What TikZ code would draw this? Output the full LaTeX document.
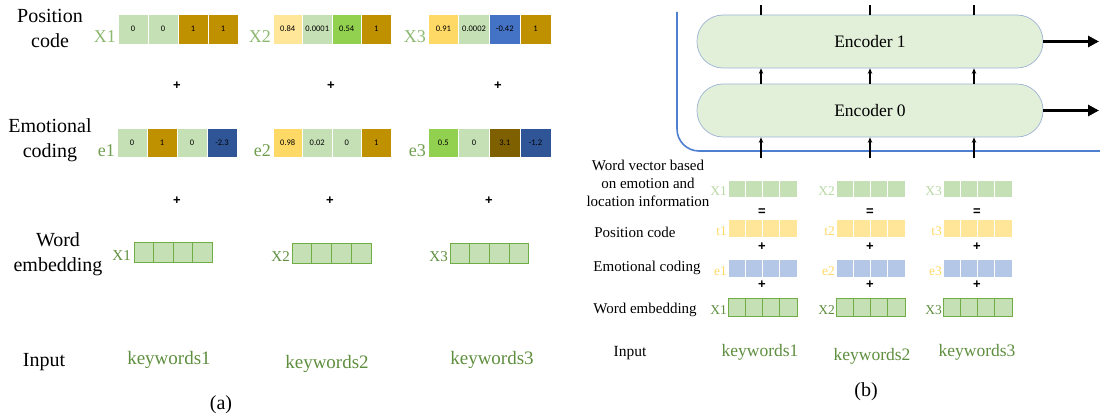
\documentclass[tikz,border=0pt]{standalone}
\usepackage{fontspec}
\setmainfont{Liberation Serif}
\newfontfamily\cellfont{Carlito}
\newfontfamily\plusfont{Liberation Sans}
\usetikzlibrary{arrows.meta}
\definecolor{lg}{HTML}{C5E0B4}
\definecolor{gold}{HTML}{BF9000}
\definecolor{ly}{HTML}{FFE699}
\definecolor{yy}{HTML}{FFD966}
\definecolor{gg}{HTML}{92D050}
\definecolor{bb}{HTML}{4472C4}
\definecolor{db}{HTML}{2F5597}
\definecolor{br}{HTML}{7F6000}
\definecolor{lb}{HTML}{B4C7E7}
\definecolor{gborder}{HTML}{70AD47}
\definecolor{labX}{HTML}{8DB870}
\definecolor{labE}{HTML}{6F9E4C}
\definecolor{labW}{HTML}{5E8E3E}
\definecolor{kw}{HTML}{5E8E3E}
\definecolor{encfill}{HTML}{E2F0D9}
\definecolor{encdraw}{HTML}{9DB3D6}
\definecolor{blueline}{HTML}{4F7FD0}
\newcommand{\fs}[2]{\fontsize{#1}{#2}\selectfont}
\newcommand{\vecrow}[7]{%
  \foreach \c/\t [count=\i] in {#7}{%
    \node[#6, fill=\c, minimum width=#4pt, minimum height=#5pt, anchor=north west]
      (#1-\i) at ({#2+(\i-1)*#4},#3) {\t};}}
\tikzset{
  cellA/.style={draw=white, line width=0.6pt, inner sep=0pt, outer sep=0pt, font=\cellfont\fs{8.5}{9}},
  cellG/.style={draw=gborder, line width=0.6pt, inner sep=0pt, outer sep=0pt},
  cellW/.style={draw=white, line width=0.6pt, inner sep=0pt, outer sep=0pt},
  bigtext/.style={align=center, font=\fs{20}{25}},
  midtext/.style={align=center, font=\fs{15}{18}},
  plus/.style={font=\plusfont\bfseries\fs{13}{13}},
  kwA/.style={text=kw, font=\fs{19}{22}},
  kwB/.style={text=kw, font=\fs{17.5}{20}},
  enc/.style={draw=encdraw, fill=encfill, line width=0.7pt, rounded corners=26pt,
    minimum width=346pt, minimum height=53pt, font=\fs{17.5}{20}},
  uparr/.style={-{Stealth[length=5.5pt,width=4.5pt]}, line width=1.3pt},
  outarr/.style={-{Triangle[length=11pt,width=11pt]}, line width=3pt},
}
\begin{document}
\begin{tikzpicture}[x=1pt,y=-1pt]
\useasboundingbox (0,0) rectangle (1100,414);
% ---------------- panel (a) ----------------
\node[bigtext] (pcA) at (50,28) {Position\\code};
\node[bigtext] (ecA) at (50,140) {Emotional\\coding};
\node[bigtext] (weA) at (58,254) {Word\\embedding};
\node[font=\fs{20}{22}] (inA) at (44,362) {Input};
\vecrow{px1}{118}{14}{30}{30}{cellA}{lg/0,lg/0,gold/1,gold/1}
\vecrow{px2}{273}{14}{29.5}{30}{cellA}{ly/0.84,lg/0.0001,gg/0.54,gold/1}
\vecrow{px3}{428}{14}{30.7}{30}{cellA}{yy/0.91,lg/0.0002,bb/-0.42,gold/1}
\node[anchor=base east, text=labX, font=\fs{18}{20}, inner sep=1pt] (lpx1) at (117,43) {X1};
\node[anchor=base east, text=labX, font=\fs{18}{20}, inner sep=1pt] (lpx2) at (272,43) {X2};
\node[anchor=base east, text=labX, font=\fs{18}{20}, inner sep=1pt] (lpx3) at (427,43) {X3};
\node[plus] (pa1) at (177,86) {+};
\node[plus] (pa2) at (331,86) {+};
\node[plus] (pa3) at (498,86) {+};
\vecrow{ec1}{117}{128}{30}{29}{cellA}{lg/0,gold/1,lg/0,db/-2.3}
\vecrow{ec2}{273}{128}{29.5}{29}{cellA}{yy/0.98,lg/0.02,lg/0,gold/1}
\vecrow{ec3}{428}{128}{30.7}{29}{cellA}{gg/0.5,lg/0,br/3.1,db/-1.2}
\node[anchor=base east, text=labE, font=\fs{18}{20}, inner sep=1pt] (lec1) at (116,157) {e1};
\node[anchor=base east, text=labE, font=\fs{18}{20}, inner sep=1pt] (lec2) at (272,157) {e2};
\node[anchor=base east, text=labE, font=\fs{18}{20}, inner sep=1pt] (lec3) at (427,157) {e3};
\node[plus] (pb1) at (177,201) {+};
\node[plus] (pb2) at (330,201) {+};
\node[plus] (pb3) at (489,201) {+};
\vecrow{we1}{134}{242}{19.5}{20}{cellG}{lg/{},lg/{},lg/{},lg/{}}
\vecrow{we2}{292}{243}{19.7}{20}{cellG}{lg/{},lg/{},lg/{},lg/{}}
\vecrow{we3}{450}{243}{19.6}{20}{cellG}{lg/{},lg/{},lg/{},lg/{}}
\node[anchor=base east, text=labW, font=\fs{15}{16}, inner sep=1pt] (lwe1) at (132,260) {X1};
\node[anchor=base east, text=labW, font=\fs{15}{16}, inner sep=1pt] (lwe2) at (291,261) {X2};
\node[anchor=base east, text=labW, font=\fs{15}{16}, inner sep=1pt] (lwe3) at (449,261) {X3};
\node[kwA] (kwa1) at (169,360) {keywords1};
\node[kwA] (kwa2) at (327,364) {keywords2};
\node[kwA] (kwa3) at (492,360) {keywords3};
\node[font=\fs{20}{22}] (capa) at (221,405) {(a)};
% ---------------- panel (b) ----------------
\coordinate (bl1) at (677,12);
\coordinate (bl2) at (1100,151);
\draw[blueline, line width=1.6pt, rounded corners=22pt] (bl1) |- (bl2);
\node[enc] (enc1) at (870,41.5) {Encoder 1};
\node[enc] (enc0) at (870,110.5) {Encoder 0};
\foreach \x [count=\k] in {761,870,974}{
  \coordinate (top\k) at (\x,5);
  \coordinate (bot\k) at (\x,158);
  \draw[line width=1.3pt] (enc1.north -| top\k) -- (top\k);
  \draw[uparr] (enc0.north -| top\k) -- (enc1.south -| top\k);
  \draw[uparr] (bot\k) -- (enc0.south -| bot\k);
}
\coordinate (o1) at (1099,41.5);
\coordinate (o0) at (1099,110.5);
\draw[outarr] (enc1.east) -- (o1);
\draw[outarr] (enc0.east) -- (o0);
% left labels
\node[midtext] (wvB) at (648,183) {Word vector based\\on emotion and\\location information};
\node[midtext] (pcB) at (635,232) {Position code};
\node[midtext] (ecB) at (647,268) {Emotional coding};
\node[midtext] (weB) at (645,310) {Word embedding};
\node[font=\fs{15.5}{18}] (inB) at (630,353) {Input};
% rows
\foreach \x/\n [count=\k] in {728/1,836/2,943/3}{
  \vecrow{bx\k}{\x}{180}{17.25}{17}{cellW}{lg/{},lg/{},lg/{},lg/{}}
  \vecrow{bt\k}{\x}{219}{17.25}{18}{cellW}{ly/{},ly/{},ly/{},ly/{}}
  \vecrow{be\k}{\x}{259}{17.25}{18}{cellW}{lb/{},lb/{},lb/{},lb/{}}
  \vecrow{bw\k}{\x}{298}{17.25}{18}{cellG}{lg/{},lg/{},lg/{},lg/{}}
  \node[anchor=base east, text=lg!85!gborder, font=\fs{13.5}{15}, inner sep=1pt] (lbx\k) at (\x,196) {X\n};
  \node[anchor=base east, text=yy, font=\fs{13.5}{15}, inner sep=1pt] (lbt\k) at (\x,235) {t\n};
  \node[anchor=base east, text=yy, font=\fs{13.5}{15}, inner sep=1pt] (lbe\k) at (\x,275) {e\n};
  \node[anchor=base east, text=labW, font=\fs{13.5}{15}, inner sep=1pt] (lbw\k) at (\x,314) {X\n};
  \node[plus] (eq\k) at ({\x+34},212) {=};
  \node[plus] (pt\k) at ({\x+34},247) {+};
  \node[plus] (pe\k) at ({\x+34},285) {+};
}
\node[kwB] (kwb1) at (760,352) {keywords1};
\node[kwB] (kwb2) at (872,356) {keywords2};
\node[kwB] (kwb3) at (977,352) {keywords3};
\node[font=\fs{20}{22}] (capb) at (866,392) {(b)};
\end{tikzpicture}
\end{document}
